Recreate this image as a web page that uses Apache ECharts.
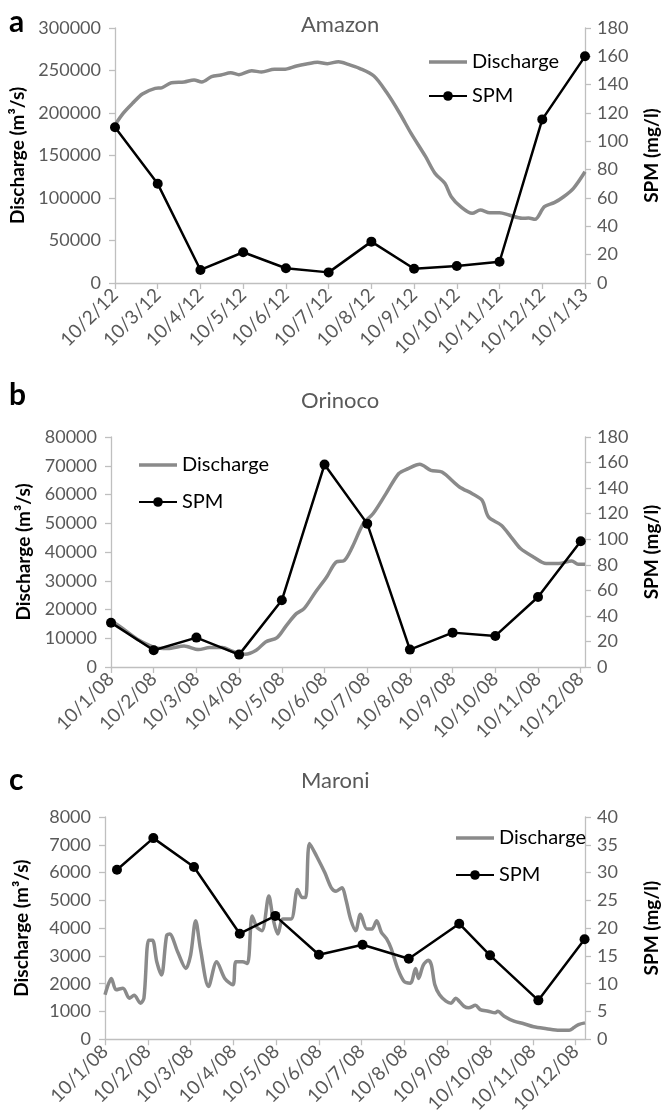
<!DOCTYPE html>
<html><head><meta charset="utf-8">
<script src="https://cdn.jsdelivr.net/npm/echarts@6/dist/echarts.min.js"></script>
<style>html,body{margin:0;padding:0;background:#fff}#c{width:669px;height:1116px}</style>
</head><body><div id="c"></div><script>
// ---------- DATA ----------
const amazonCategories = ['10/2/12','10/3/12','10/4/12','10/5/12','10/6/12','10/7/12','10/8/12','10/9/12','10/10/12','10/11/12','10/12/12','10/1/13'];
const amazonSPM = [110, 70, 9.2, 21.7, 10.4, 7.5, 29.2, 10.1, 12, 15, 115.5, 160];
// [position in months from first label, discharge m3/s]
const amazonDischarge = [[0,186000],[0.19,199600],[0.41,211400],[0.64,222400],[0.94,229000],[1.09,229600],[1.32,235600],[1.62,236500],[1.85,238800],[2.03,236500],[2.26,242700],[2.48,244700],[2.71,247400],[2.9,245100],[3.2,249800],[3.43,248200],[3.73,251400],[3.95,251400],[4.25,255300],[4.48,257600],[4.74,259600],[4.97,258000],[5.23,260400],[5.46,257300],[5.72,252600],[6.06,243500],[6.36,224000],[6.66,200000],[6.93,176000],[7.27,148600],[7.49,129000],[7.72,117300],[7.87,101500],[8.09,89800],[8.36,82000],[8.55,85900],[8.77,82700],[9.0,82700],[9.22,80000],[9.53,76100],[9.68,76500],[9.83,74900],[10.05,89800],[10.28,94500],[10.5,101500],[10.73,111400],[11,130900]];

const orinocoCategories = ['10/1/08','10/2/08','10/3/08','10/4/08','10/5/08','10/6/08','10/7/08','10/8/08','10/9/08','10/10/08','10/11/08','10/12/08'];
const orinocoSPM = [34.7, 13.1, 23, 9.7, 52.2, 158.4, 112.2, 13.6, 26.9, 24.3, 54.8, 98.4];
const orinocoDischarge = [[0,16200],[0.28,13350],[0.66,9290],[1.04,6750],[1.33,6400],[1.71,7300],[2.05,6050],[2.31,6750],[2.61,6750],[2.84,5460],[3.14,4420],[3.4,5810],[3.62,8700],[3.89,10230],[4.11,14500],[4.34,18560],[4.52,20300],[4.79,26100],[5.05,31300],[5.27,36500],[5.46,37000],[5.65,41700],[5.91,49900],[6.14,53400],[6.44,60300],[6.74,67300],[6.96,69000],[7.23,70500],[7.49,68400],[7.75,67800],[8.16,62600],[8.46,60300],[8.69,58000],[8.84,52200],[9.14,49300],[9.37,45200],[9.59,41200],[9.89,38300],[10.19,36000],[10.49,36000],[10.79,36900],[10.94,35700],[11.1,35700]];

const maroniCategories = ['10/1/08','10/2/08','10/3/08','10/4/08','10/5/08','10/6/08','10/7/08','10/8/08','10/9/08','10/10/08','10/11/08','10/12/08'];
const maroniSPM = [[0.28,30.5],[1.13,36.2],[2.08,31],[3.15,19],[3.98,22.2],[5.0,15.2],[6.02,17],[7.1,14.5],[8.28,20.8],[9.0,15.1],[10.13,7],[11.21,18]];
const maroniDischarge = [[0,1600],[0.15,2190],[0.26,1780],[0.42,1840],[0.57,1480],[0.68,1580],[0.83,1300],[0.91,1480],[1.02,3560],[1.11,3560],[1.21,2790],[1.32,2310],[1.44,3730],[1.51,3790],[1.7,3140],[1.89,2550],[2.0,3020],[2.12,4270],[2.23,3260],[2.42,1900],[2.61,2790],[2.8,2190],[2.99,1960],[3.06,2790],[3.21,2790],[3.33,2730],[3.44,4440],[3.55,4030],[3.67,3910],[3.83,5160],[3.93,4330],[4.04,3790],[4.16,4330],[4.35,4330],[4.5,5390],[4.61,5100],[4.69,5100],[4.78,7050],[4.95,6580],[5.14,5990],[5.29,5450],[5.4,5330],[5.54,5450],[5.63,5040],[5.74,4330],[5.86,3910],[5.97,4500],[6.12,3970],[6.24,3970],[6.35,4270],[6.46,3850],[6.58,3620],[6.69,3260],[6.84,2550],[6.99,2080],[7.14,2020],[7.26,2550],[7.33,2190],[7.44,2670],[7.56,2840],[7.63,2670],[7.71,1960],[7.82,1600],[7.97,1370],[8.09,1300],[8.2,1480],[8.28,1370],[8.39,1190],[8.5,1130],[8.66,1220],[8.77,1070],[8.96,1010],[9.12,950],[9.18,1010],[9.33,830],[9.56,650],[9.79,560],[10.02,450],[10.32,380],[10.62,320],[10.85,320],[10.96,420],[11.07,530],[11.22,590]];

const panelTitles = ['Amazon','Orinoco','Maroni'];
const panelLetters = ['a','b','c'];

// ---------- CHART ----------
const FONT = 'Lato';
const GRAY_TXT = '#595959';
const AXIS_COL = '#bfbfbf';
const tickIdx = [0,1,2,3,4,5,6,7,8,9,10,11];

const panels = [
  {cats: amazonCategories, spm: amazonSPM.map((v,i)=>[i,v]), q: amazonDischarge, grid:{left:115, top:28, width:487, height:255}, xmax:11, qmax:300000, qint:50000, smax:180, sint:20, lnameGap:87, rnameGap:57, legend:{left:428, top:50}, legendGap:10, titleY:25, letterY:24},
  {cats: orinocoCategories, spm: orinocoSPM.map((v,i)=>[i,v]), q: orinocoDischarge, grid:{left:111, top:437, width:493, height:230}, xmax:11.1, qmax:80000, qint:10000, smax:180, sint:20, lnameGap:78, rnameGap:57, legend:{left:138, top:453}, legendGap:13, titleY:401, letterY:397},
  {cats: maroniCategories, spm: maroniSPM, q: maroniDischarge, grid:{left:105, top:817, width:495, height:225}, xmax:11.22, qmax:8000, qint:1000, smax:40, sint:5, lnameGap:74, rnameGap:57, legend:{left:455, top:826}, legendGap:13, titleY:781, letterY:782}
];

const lineIcon = 'path://M0,0H38V3.5H0Z';
const grid=[], xAxis=[], yAxis=[], series=[], legend=[], graphic=[];
panels.forEach((p, k) => {
  grid.push(Object.assign({containLabel:false}, p.grid));
  xAxis.push({
    type:'value', gridIndex:k, min:0, max:p.xmax, interval:1,
    axisLine:{show:true, onZero:false, lineStyle:{color:AXIS_COL, width:1.3}},
    axisTick:{show:true, length:6, customValues:tickIdx, lineStyle:{color:AXIS_COL, width:1.3}},
    axisLabel:{customValues:tickIdx, rotate:45, margin:9, color:GRAY_TXT, fontSize:19, fontFamily:FONT,
      formatter:(v)=> p.cats[Math.round(v)] || ''},
    splitLine:{show:false}
  });
  yAxis.push({
    type:'value', gridIndex:k, position:'left', min:0, max:p.qmax, interval:p.qint,
    axisLine:{show:true, lineStyle:{color:AXIS_COL, width:1.3}},
    axisTick:{show:true, length:6, lineStyle:{color:AXIS_COL, width:1.3}},
    axisLabel:{color:GRAY_TXT, fontSize:18, fontFamily:FONT, margin:14, formatter:(v)=>String(v)},
    splitLine:{show:false},
    name:'Discharge (m³/s)', nameLocation:'middle', nameGap:p.lnameGap,
    nameTextStyle:{color:'#000', fontWeight:'bold', fontSize:19, fontFamily:FONT}
  });
  yAxis.push({
    type:'value', gridIndex:k, position:'right', min:0, max:p.smax, interval:p.sint,
    axisLine:{show:true, lineStyle:{color:AXIS_COL, width:1.3}},
    axisTick:{show:true, length:6, lineStyle:{color:AXIS_COL, width:1.3}},
    axisLabel:{color:GRAY_TXT, fontSize:18, fontFamily:FONT, margin:12, formatter:(v)=>String(v)},
    splitLine:{show:false},
    name:'SPM (mg/l)', nameLocation:'middle', nameGap:p.rnameGap,
    nameTextStyle:{color:'#000', fontWeight:'bold', fontSize:19, fontFamily:FONT}
  });
  series.push({
    name:'Discharge', type:'line', xAxisIndex:k, yAxisIndex:2*k, data:p.q,
    showSymbol:false, symbol:'none', smooth:0.3,
    lineStyle:{color:'#8a8a8a', width:3.5}, itemStyle:{color:'#8a8a8a'}, z:2, animation:false
  });
  series.push({
    name:'SPM', type:'line', xAxisIndex:k, yAxisIndex:2*k+1, data:p.spm,
    symbol:'circle', symbolSize:10,
    lineStyle:{color:'#000', width:2.5}, itemStyle:{color:'#000'}, z:3, animation:false
  });
  legend.push({
    orient:'vertical', left:p.legend.left, top:p.legend.top, itemGap:p.legendGap,
    itemWidth:38, itemHeight:12, padding:0,
    data:[{name:'Discharge', icon:lineIcon}, 'SPM'],
    textStyle:{color:'#000', fontSize:20, fontFamily:FONT, lineHeight:24}
  });
  graphic.push({type:'text', left:343 - 42, top:p.titleY - 11, style:{text:panelTitles[k], fill:GRAY_TXT, font:'22px '+FONT}});
  graphic.push({type:'text', left:9, top:p.letterY - 17, style:{text:panelLetters[k], fill:'#000', font:'bold 30px '+FONT}});
});

const chart = echarts.init(document.getElementById('c'), null, {renderer:'canvas'});
chart.setOption({animation:false, backgroundColor:'#fff', grid, xAxis, yAxis, series, legend, graphic});
</script></body></html>
